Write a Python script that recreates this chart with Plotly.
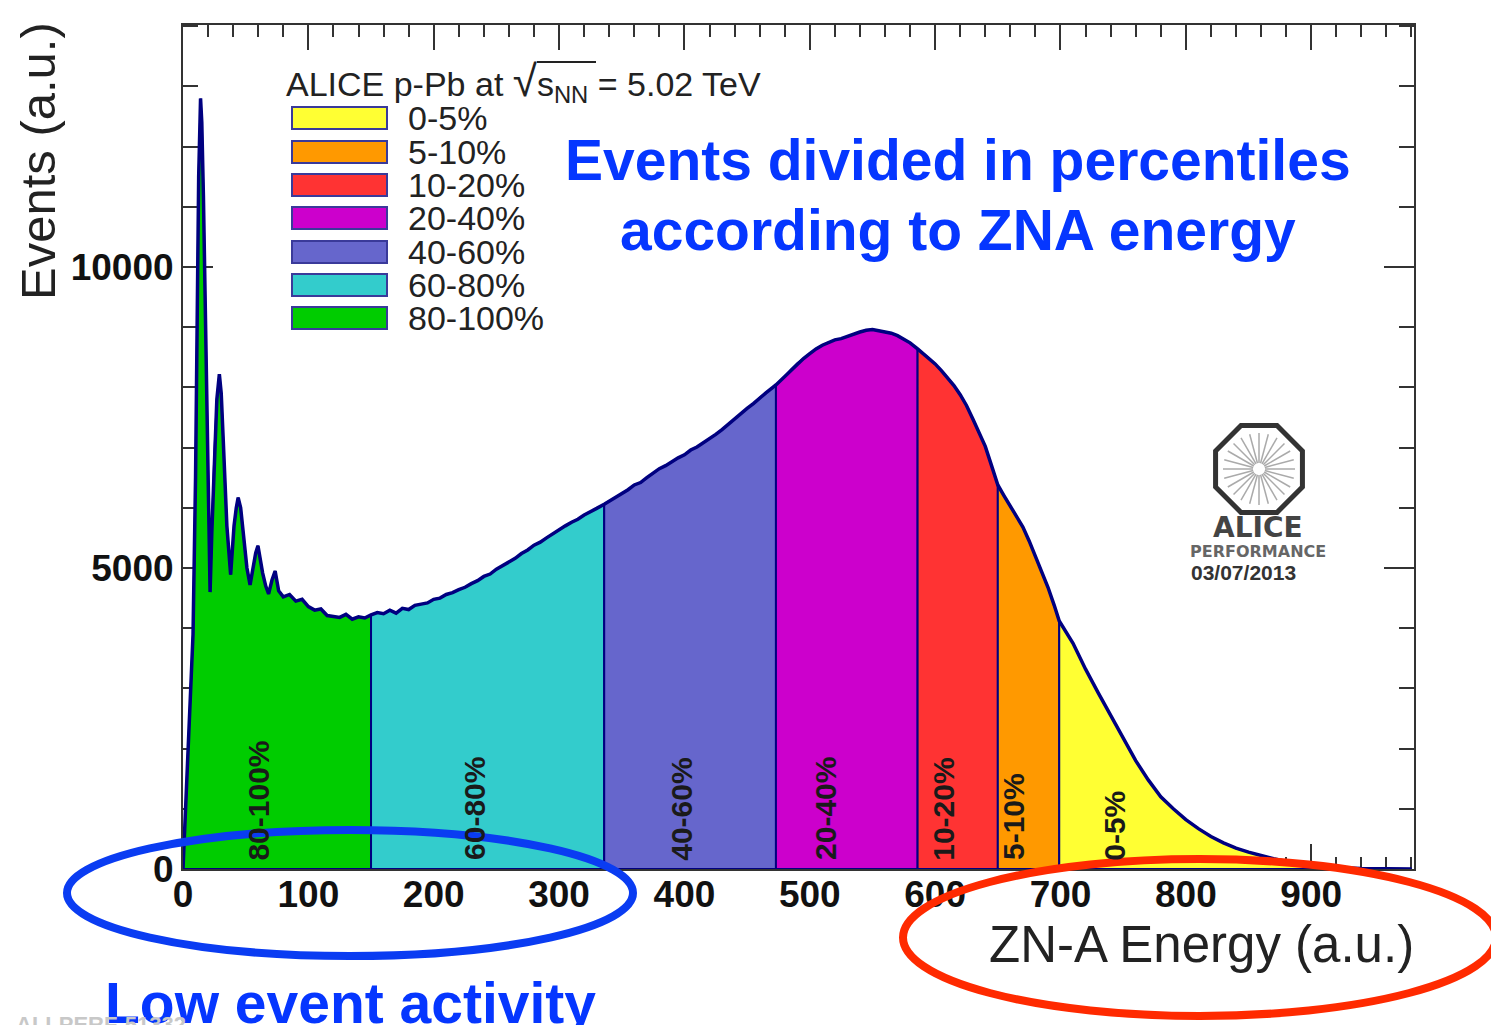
import math
import plotly.graph_objects as go

# ---------------- data ----------------
energy = [0, 3, 6, 8, 10, 11, 12.5, 14, 15, 16.3, 17.7, 19, 21.6, 23, 25, 27, 29, 30.5, 32,
          35, 38, 40.7, 42.5, 44, 46, 48, 51, 53.5, 56, 58, 59.8, 61.5, 63.5, 66, 68.3, 71,
          73.5, 76.3, 80, 85, 90, 95, 100, 105, 110, 115, 120, 125, 130, 135, 140, 145, 150,
          155, 160, 165, 170, 175, 180, 185, 190, 195, 200, 205, 210, 215, 220, 225, 230, 235,
          240, 245, 250, 255, 260, 265, 270, 275, 280, 285, 290, 295, 300, 305, 310, 315, 320,
          325, 330, 336,
          340, 345, 350, 355, 360, 365, 370, 375, 380, 385, 390, 395, 400, 405, 410, 415, 420,
          425, 430, 435, 440, 445, 450, 455, 460, 465, 473,
          480, 485, 490, 495, 500, 505, 510, 515, 520, 525, 530, 535, 540, 545, 550, 555, 560,
          565, 570, 575, 580, 586,
          590, 595, 600, 605, 610, 615, 620, 625, 630, 635, 640, 645, 650,
          655, 660, 665, 670, 675, 680, 685, 690, 695, 699,
          710, 720, 730, 740, 750, 760, 770, 780, 790, 800, 810, 820, 830, 840, 850, 860, 870,
          880, 890, 900, 910, 920, 940, 960, 980]
events = [0, 1500, 2900, 3900, 6500, 8700, 11500, 12800, 12400, 11170, 9570, 7780, 4600, 5600,
          6900, 7800, 8220, 7900, 7180, 5700, 4890, 5700, 6000, 6170, 6000, 5630, 5000, 4720,
          5000, 5250, 5370, 5150, 4920, 4700, 4570, 4800, 4950, 4620, 4520, 4560, 4450, 4480,
          4360, 4300, 4320, 4210, 4200, 4180, 4230, 4150, 4190, 4170, 4220,
          4260, 4240, 4300, 4250, 4330, 4310, 4380, 4400, 4420, 4480, 4500, 4560, 4590, 4640,
          4680, 4740, 4790, 4860, 4900, 4980, 5040, 5100, 5160, 5240, 5300, 5380, 5430, 5500,
          5570, 5630, 5700, 5760, 5810, 5880, 5930, 5990, 6060,
          6110, 6170, 6240, 6300, 6380, 6420, 6500, 6580, 6650, 6700, 6770, 6830, 6880, 6960,
          7010, 7080, 7140, 7220, 7300, 7390, 7480, 7560, 7650, 7730, 7830, 7910, 8040,
          8180, 8300, 8400, 8480, 8560, 8640, 8700, 8740, 8790, 8810, 8850, 8880, 8920, 8950,
          8960, 8940, 8920, 8900, 8860, 8800, 8740, 8640,
          8570, 8490, 8390, 8280, 8160, 8030, 7880, 7700, 7480, 7260, 7020, 6700, 6380,
          6200, 6020, 5850, 5680, 5450, 5200, 4950, 4680, 4380, 4120,
          3750, 3320, 2930, 2560, 2190, 1800, 1480, 1200, 1000, 820, 670, 540, 435, 345, 280,
          220, 170, 125, 90, 60, 40, 25, 10, 3, 0]

classes = ["80-100%", "60-80%", "40-60%", "20-40%", "10-20%", "5-10%", "0-5%"]
class_bounds = [0, 150, 336, 473, 586, 650, 699, 980]
class_colors = ["#00CC00", "#33CCCC", "#6666CC", "#CC00CC", "#FF3333", "#FF9900", "#FFFF33"]
label_energy = [60, 233, 398, 513, 607, 663, 743]

legend_order = ["0-5%", "5-10%", "10-20%", "20-40%", "40-60%", "60-80%", "80-100%"]
x_ticks = [0, 100, 200, 300, 400, 500, 600, 700, 800, 900]
y_ticks = [0, 5000, 10000]

# ---------------- layout helpers ----------------
L, R, T, B = 183, 1414, 25, 869
W, H = 1491, 1025
XMAX, YMAX = 982, 14020


def fx(px):
    return (px - L) / (R - L)


def fy(py):
    return (B - py) / (B - T)


NAVY = "#000080"
FONT = "Liberation Sans"
BLUE = "#0536FF"

fig = go.Figure()

# coloured percentile slices
for name, lo, hi, col in zip(classes, class_bounds[:-1], class_bounds[1:], class_colors):
    xs = [e for e in energy if lo <= e <= hi]
    ys = [v for e, v in zip(energy, events) if lo <= e <= hi]
    fig.add_trace(go.Scatter(
        x=[lo] + xs + [hi, lo], y=[0] + ys + [0, 0], mode="lines", fill="toself",
        fillcolor=col, line=dict(color=NAVY, width=2), name=name,
        hoverinfo="skip", showlegend=False))

# histogram outline
fig.add_trace(go.Scatter(x=energy, y=events, mode="lines",
                         line=dict(color=NAVY, width=3.5), showlegend=False,
                         hoverinfo="skip"))

annotations = []
shapes = []

# rotated labels inside slices
for name, e in zip(classes, label_energy):
    annotations.append(dict(x=e, y=110, xref="x", yref="y", text=name, textangle=-90,
                            showarrow=False, xanchor="center", yanchor="bottom",
                            font=dict(family=FONT, size=30, color="#1a1a1a", weight="bold")))

# legend (drawn manually, ROOT style)
leg_rows = [118, 152, 185, 218, 252, 285, 318]
color_of = dict(zip(classes, class_colors))
for lab, yc in zip(legend_order, leg_rows):
    shapes.append(dict(type="rect", xref="paper", yref="paper",
                       x0=fx(292), x1=fx(387), y0=fy(yc + 11), y1=fy(yc - 11),
                       fillcolor=color_of[lab], line=dict(color="#3a3a9a", width=2)))
    annotations.append(dict(x=fx(406), y=fy(yc), xref="paper", yref="paper", text=lab,
                            showarrow=False, xanchor="left", yanchor="middle",
                            font=dict(family=FONT, size=34, color="#222")))
annotations.append(dict(
    x=fx(284), y=fy(82), xref="paper", yref="paper",
    text="ALICE p-Pb at <span style='font-size:44px'>√</span>s<sub>NN</sub> = 5.02 TeV",
    showarrow=False, xanchor="left", yanchor="middle",
    font=dict(family=FONT, size=34, color="#222")))
shapes.append(dict(type="line", xref="paper", yref="paper", x0=fx(537), x1=fx(596),
                   y0=fy(62), y1=fy(62), line=dict(color="#222", width=2)))

# blue message
annotations.append(dict(x=fx(958), y=fy(160), xref="paper", yref="paper",
                        text="Events divided in percentiles", showarrow=False,
                        xanchor="center", yanchor="middle",
                        font=dict(family=FONT, size=57, color=BLUE, weight="bold")))
annotations.append(dict(x=fx(958), y=fy(230), xref="paper", yref="paper",
                        text="according to ZNA energy", showarrow=False,
                        xanchor="center", yanchor="middle",
                        font=dict(family=FONT, size=57, color=BLUE, weight="bold")))
annotations.append(dict(x=fx(350), y=fy(1003), xref="paper", yref="paper",
                        text="Low event activity", showarrow=False,
                        xanchor="center", yanchor="middle",
                        font=dict(family=FONT, size=57, color=BLUE, weight="bold")))

# axis titles
annotations.append(dict(x=fx(38), y=fy(20), xref="paper", yref="paper",
                        text="Events (a.u.)", textangle=-90, showarrow=False,
                        xanchor="center", yanchor="top",
                        font=dict(family=FONT, size=49, color="#222")))
annotations.append(dict(x=fx(1416), y=fy(945), xref="paper", yref="paper",
                        text="ZN-A Energy (a.u.)", showarrow=False,
                        xanchor="right", yanchor="middle",
                        font=dict(family=FONT, size=51, color="#222")))

# ALICE performance logo
cx, cy, rr = 1259, 469, 47
octo = []
for k in range(8):
    a = math.radians(22.5 + 45 * k)
    octo.append((cx + rr * math.cos(a), cy + rr * math.sin(a)))
path = "M " + " L ".join(f"{fx(px):.5f},{fy(py):.5f}" for px, py in octo) + " Z"
shapes.append(dict(type="path", xref="paper", yref="paper", path=path,
                   line=dict(color="#333", width=5), fillcolor="rgba(0,0,0,0)"))
for k in range(24):
    a = math.radians(15 * k)
    shapes.append(dict(type="line", xref="paper", yref="paper",
                       x0=fx(cx + 6 * math.cos(a)), y0=fy(cy + 6 * math.sin(a)),
                       x1=fx(cx + 36 * math.cos(a)), y1=fy(cy + 36 * math.sin(a)),
                       line=dict(color="#aaa", width=1.5)))
annotations.append(dict(x=fx(1258), y=fy(527), xref="paper", yref="paper", text="ALICE",
                        showarrow=False, xanchor="center", yanchor="middle",
                        font=dict(family="DejaVu Sans", size=28, color="#444", weight="bold")))
annotations.append(dict(x=fx(1258), y=fy(551), xref="paper", yref="paper",
                        text="PERFORMANCE", showarrow=False, xanchor="center", yanchor="middle",
                        font=dict(family="DejaVu Sans", size=16, color="#666", weight="bold")))
annotations.append(dict(x=fx(1243), y=fy(572), xref="paper", yref="paper", text="03/07/2013",
                        showarrow=False, xanchor="center", yanchor="middle",
                        font=dict(family=FONT, size=21, color="#333", weight="bold")))

# faint reference tag bottom-left
annotations.append(dict(x=fx(14), y=fy(1024), xref="paper", yref="paper",
                        text="ALI-PERF-51332", showarrow=False, xanchor="left",
                        yanchor="middle",
                        font=dict(family=FONT, size=22, color="#c8c8c8", weight="bold")))

# highlight ellipses
shapes.append(dict(type="circle", xref="paper", yref="paper",
                   x0=fx(67), x1=fx(633), y0=fy(956), y1=fy(830),
                   line=dict(color="#0A3CF2", width=8)))
shapes.append(dict(type="circle", xref="paper", yref="paper",
                   x0=fx(903), x1=fx(1496), y0=fy(1016), y1=fy(859),
                   line=dict(color="#FF2A00", width=8)))

axis_common = dict(showline=True, linecolor="#333", linewidth=2, mirror="allticks",
                   ticks="inside", tickcolor="#333", tickwidth=2, showgrid=False,
                   zeroline=False, layer="below traces",
                   tickfont=dict(family=FONT, size=37, color="#111", weight="bold"))

fig.update_layout(
    width=W, height=H,
    margin=dict(l=L, r=W - R, t=T, b=H - B, pad=0),
    paper_bgcolor="white", plot_bgcolor="white",
    showlegend=False,
    xaxis=dict(range=[0, XMAX], tickvals=x_ticks, ticklen=25, ticklabelstandoff=-8,
               minor=dict(dtick=20, tick0=0, ticklen=12, ticks="inside", tickcolor="#333",
                          tickwidth=2, showgrid=False),
               **axis_common),
    yaxis=dict(range=[0, YMAX], tickvals=y_ticks, tickformat="d", ticklen=30,
               minor=dict(dtick=1000, tick0=0, ticklen=15, ticks="inside", tickcolor="#333",
                          tickwidth=2, showgrid=False),
               **axis_common),
    annotations=annotations,
    shapes=shapes,
)

fig.write_html("out.html")
